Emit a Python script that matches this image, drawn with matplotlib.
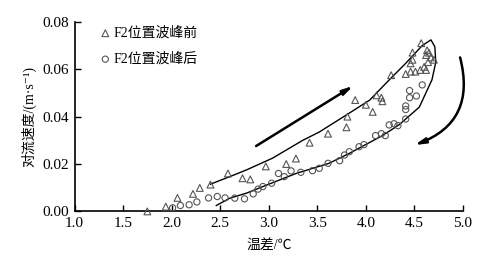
import matplotlib
matplotlib.use("Agg")
import matplotlib.pyplot as plt

plt.rcParams['font.family'] = ['Liberation Serif', 'Noto Sans CJK SC', 'DejaVu Sans']

# Data: F2 position, before wave peak (triangles)
tri_x = [1.75, 1.94, 2.06, 2.22, 2.29, 2.40, 2.58, 2.73, 2.81, 2.97, 3.18, 3.28, 3.42, 3.61,
         3.80, 3.81, 3.89, 4.00, 4.07, 4.11, 4.16, 4.17, 4.26, 4.41, 4.46, 4.51, 4.56, 4.60,
         4.62, 4.64, 4.62, 4.65, 4.63, 4.67, 4.70, 4.57, 4.48, 4.48, 4.46]
tri_y = [0.000, 0.002, 0.0057, 0.0074, 0.0099, 0.0113, 0.016, 0.014, 0.0135, 0.019, 0.020,
         0.0223, 0.029, 0.0328, 0.0355, 0.040, 0.047, 0.045, 0.042, 0.049, 0.048, 0.0465,
         0.0575, 0.058, 0.059, 0.059, 0.0597, 0.061, 0.0597, 0.063, 0.066, 0.067, 0.068,
         0.065, 0.064, 0.071, 0.067, 0.064, 0.0625]

# Data: F2 position, after wave peak (circles)
cir_x = [2.01, 2.09, 2.18, 2.26, 2.38, 2.47, 2.55, 2.65, 2.75, 2.84, 2.89, 2.94, 3.03, 3.10,
         3.16, 3.23, 3.33, 3.45, 3.52, 3.61, 3.73, 3.78, 3.83, 3.93, 3.98, 4.10, 4.16, 4.20,
         4.24, 4.29, 4.33, 4.41, 4.41, 4.41, 4.45, 4.45, 4.52, 4.58]
cir_y = [0.0015, 0.0025, 0.0028, 0.004, 0.0057, 0.0063, 0.0057, 0.0056, 0.0053, 0.0074,
         0.0094, 0.0105, 0.0119, 0.016, 0.0147, 0.0171, 0.0165, 0.0172, 0.0182, 0.0203,
         0.0214, 0.0238, 0.0252, 0.0273, 0.0282, 0.032, 0.0328, 0.032, 0.0365, 0.037,
         0.0362, 0.039, 0.043, 0.0445, 0.048, 0.051, 0.0487, 0.0534]

# Hysteresis envelope curve
fit_x = [2.40, 2.60, 2.77, 3.04, 3.35, 3.52, 3.83, 4.04, 4.24, 4.41, 4.58, 4.67, 4.71, 4.72,
         4.68, 4.55, 4.34, 4.17, 3.83, 3.62, 3.28, 2.94, 2.77, 2.60, 2.46]
fit_y = [0.0115, 0.0147, 0.0175, 0.0225, 0.030, 0.0335, 0.0415, 0.047, 0.0555, 0.0625,
         0.070, 0.0724, 0.0695, 0.063, 0.0555, 0.044, 0.0365, 0.032, 0.0245, 0.0203,
         0.016, 0.0105, 0.0077, 0.0056, 0.0025]

# Direction arrows (start, end)
arrow1 = ((2.87, 0.0276), (3.87, 0.0530))
arrow2 = ((4.97, 0.0650), (4.50, 0.0280))

x_ticks = [1.0, 1.5, 2.0, 2.5, 3.0, 3.5, 4.0, 4.5, 5.0]
y_ticks = [0.00, 0.02, 0.04, 0.06, 0.08]

fig = plt.figure(figsize=(5.0, 2.7), dpi=100)
ax = fig.add_axes([0.149, 0.217, 0.777, 0.702])

ax.plot(fit_x, fit_y, color='black', lw=1.0, zorder=2)
ax.scatter(tri_x, tri_y, marker='^', s=24, facecolors='none', edgecolors='#555555',
           linewidths=0.8, zorder=3, label='F2位置波峰前', clip_on=False)
ax.scatter(cir_x, cir_y, marker='o', s=20, facecolors='none', edgecolors='#555555',
           linewidths=0.8, zorder=3, label='F2位置波峰后', clip_on=False)

ax.annotate('', xy=arrow1[1], xytext=arrow1[0],
            arrowprops=dict(arrowstyle='-|>,head_length=0.6,head_width=0.15', lw=1.8,
                            color='black', shrinkA=0, shrinkB=0))
ax.annotate('', xy=arrow2[1], xytext=arrow2[0],
            arrowprops=dict(arrowstyle='-|>,head_length=0.6,head_width=0.15', lw=1.8,
                            color='black', shrinkA=0, shrinkB=0,
                            connectionstyle='arc3,rad=-0.45'))

ax.set_xlim(1.0, 5.0)
ax.set_ylim(0.0, 0.08)
ax.set_xticks(x_ticks)
ax.set_xticklabels([f'{v:.1f}' for v in x_ticks])
ax.set_yticks(y_ticks)
ax.set_yticklabels([f'{v:.2f}' for v in y_ticks])
ax.tick_params(direction='in', length=4, width=1, labelsize=11, colors='black')
ax.tick_params(axis='y', pad=4)
ax.tick_params(axis='x', pad=4)
for s in ['top', 'right']:
    ax.spines[s].set_visible(False)
for s in ['left', 'bottom']:
    ax.spines[s].set_linewidth(1.2)

ax.set_xlabel('温差/℃', fontsize=10, labelpad=7)
ax.set_ylabel('对流速度/(m·s⁻¹)', fontsize=10, labelpad=4)

leg = ax.legend(loc='upper left', bbox_to_anchor=(0.04, 1.02), frameon=False,
                fontsize=10, handletextpad=0.1, labelspacing=0.9, handlelength=1.0,
                borderaxespad=0.2)

fig.savefig('out.png', dpi=100, facecolor='white')
